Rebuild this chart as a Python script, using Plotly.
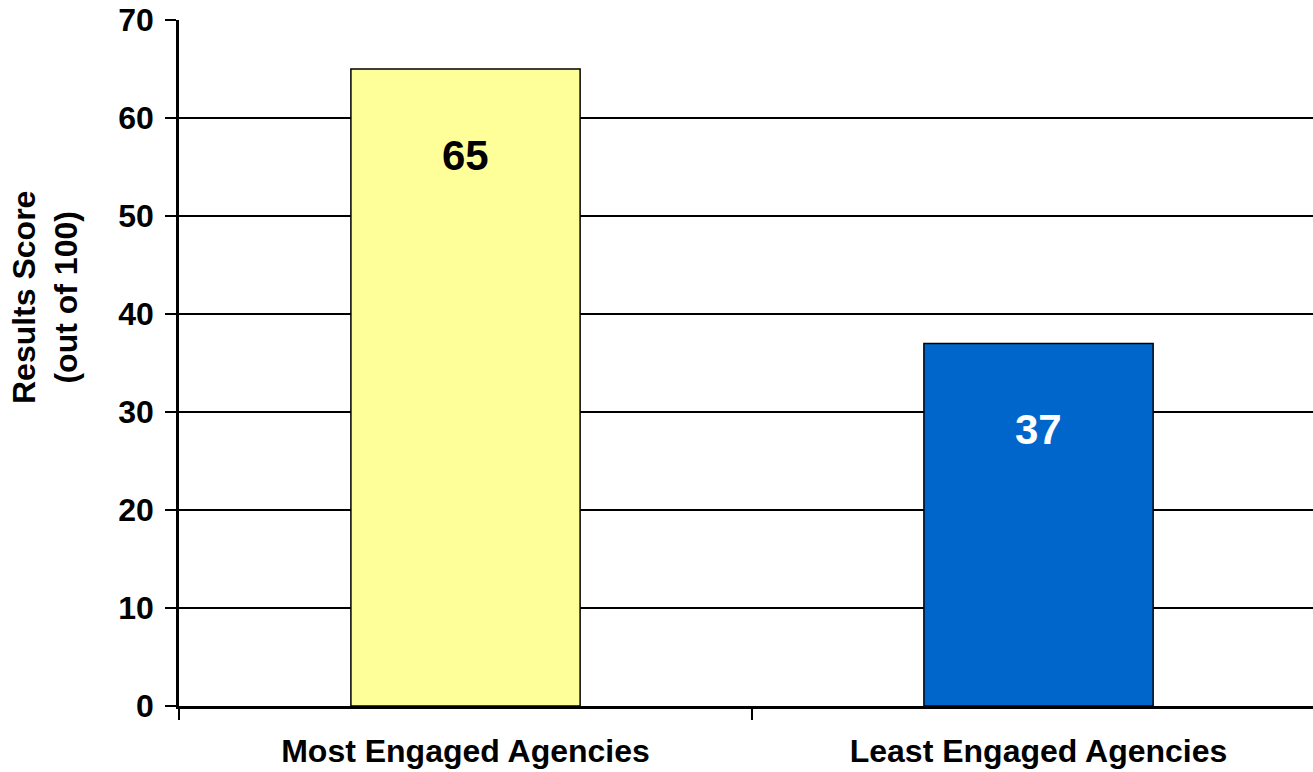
import plotly.graph_objects as go

categories = ["Most Engaged Agencies", "Least Engaged Agencies"]
scores = [65, 37]
bar_colors = ["#FFFF99", "#0066CC"]
label_colors = ["#000000", "#FFFFFF"]
y_ticks = [0, 10, 20, 30, 40, 50, 60, 70]

FONT = "Liberation Sans, Arial, sans-serif"

fig = go.Figure()
fig.add_trace(go.Bar(
    x=categories, y=scores,
    marker=dict(color=bar_colors, line=dict(color="#000000", width=1.5)),
    width=0.4, showlegend=False, hoverinfo="skip",
))

for cat, val, col in zip(categories, scores, label_colors):
    fig.add_annotation(
        x=cat, y=val, xref="x", yref="y", text=f"<b>{val}</b>",
        showarrow=False, yshift=-86, yanchor="middle",
        font=dict(family=FONT, size=42, color=col),
    )

fig.add_annotation(
    text="<b>Results Score<br>(out of 100)</b>", textangle=-90,
    xref="paper", yref="paper", x=-0.118, y=0.595,
    xanchor="center", yanchor="middle", showarrow=False,
    font=dict(family=FONT, size=32, color="#000000"),
)

fig.update_layout(
    width=1313, height=772,
    margin=dict(l=179, r=0, t=20, b=66),
    paper_bgcolor="white", plot_bgcolor="white",
    font=dict(family=FONT, size=32, color="#000000"),
    bargap=0.6,
)
fig.update_xaxes(
    type="category", range=[-0.5, 1.479],
    tickson="boundaries", ticks="outside", ticklen=11, tickwidth=2, tickcolor="#000",
    showline=True, linecolor="#000", linewidth=2.5,
    showgrid=False, tickfont=dict(family=FONT, size=32, color="#000", weight="bold"),
    ticklabelstandoff=15,
)
fig.update_yaxes(
    range=[0, 70], tickvals=y_ticks, ticktext=[f"<b>{v}</b>" for v in y_ticks],
    ticks="outside", ticklen=11, tickwidth=2, tickcolor="#000",
    showline=True, linecolor="#000", linewidth=2.5,
    showgrid=True, gridcolor="#000", gridwidth=1.5, zeroline=False,
    tickfont=dict(family=FONT, size=32, color="#000"),
    ticklabelstandoff=5,
)

fig.write_html(
    "out.html",
    config={"displayModeBar": False},
    post_script="document.body.style.margin='0';document.body.style.overflow='hidden';",
)
